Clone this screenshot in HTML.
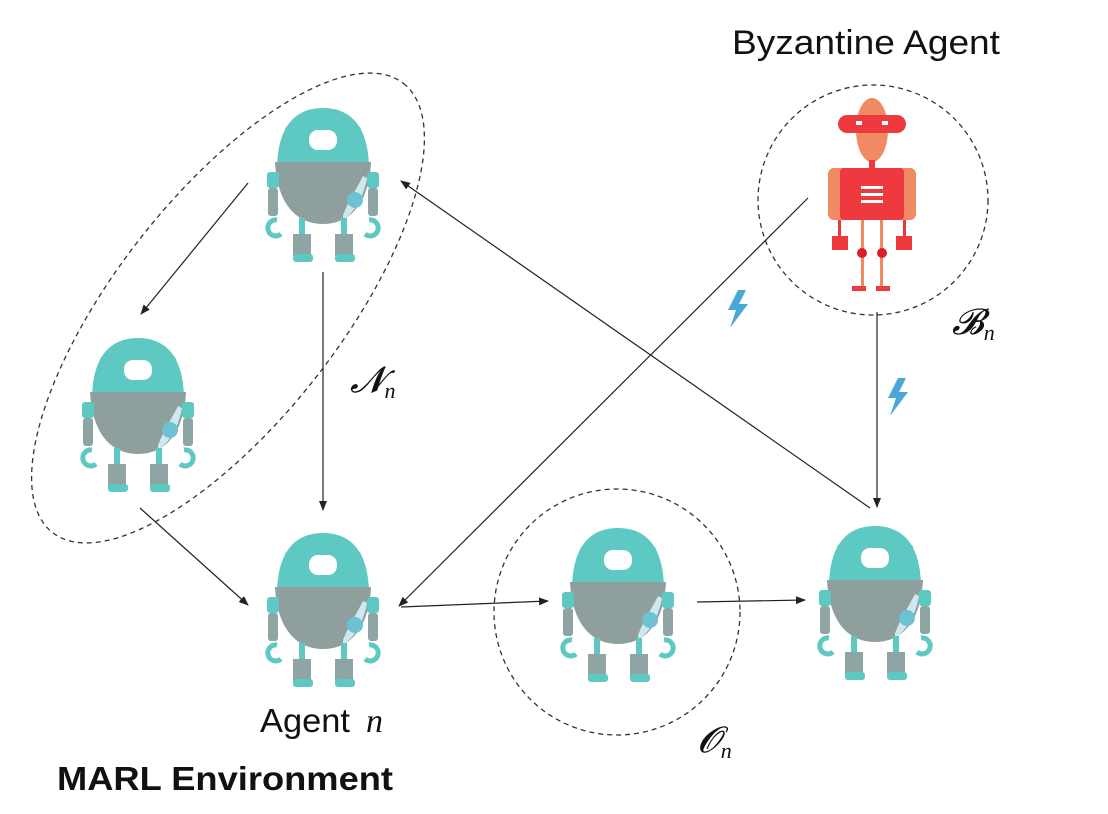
<!DOCTYPE html>
<html><head><meta charset="utf-8"><style>
html,body{margin:0;padding:0;background:#fff;}
svg{display:block;}
text{font-family:"Liberation Sans","DejaVu Sans",sans-serif;}
.m{font-family:"Liberation Serif",serif;font-style:italic;}
</style></head><body>
<svg width="1108" height="814" viewBox="0 0 1108 814" xmlns="http://www.w3.org/2000/svg">
<defs>
<marker id="a" markerWidth="10" markerHeight="8" refX="9" refY="4" orient="auto" markerUnits="userSpaceOnUse">
<path d="M0,0 L10,4 L0,8 z" fill="#222"/></marker>
<g id="r">
 <rect x="26" y="26" width="12" height="24" rx="4" fill="#8fa5a3"/>
 <rect x="90" y="26" width="12" height="24" rx="4" fill="#8fa5a3"/>
 <path d="M18,70 C18,28 35,8 64,8 C93,8 110,28 110,70 Z" fill="#5ec9c3"/>
 <rect x="50" y="30" width="28" height="20" rx="9" fill="#fff"/>
 <path d="M16,62 L112,62 C110,102 92,124 64,124 C36,124 18,102 16,62 Z" fill="#8e9f9d"/>
 <path d="M84,115 C90,100 98,88 104,76 L108,78 C104,100 95,112 84,120 Z" fill="#cde9ef"/>
 <circle cx="96" cy="100" r="8" fill="#6cc2d0"/>
 <rect x="8" y="72" width="12" height="16" rx="3" fill="#5ec9c3"/>
 <rect x="108" y="72" width="12" height="16" rx="3" fill="#5ec9c3"/>
 <rect x="9" y="88" width="10" height="28" rx="3" fill="#8fa5a3"/>
 <rect x="109" y="88" width="10" height="28" rx="3" fill="#8fa5a3"/>
 <path d="M18,120 A8,8 0 1,0 22,134" stroke="#5ec9c3" stroke-width="5" fill="none"/>
 <path d="M110,120 A8,8 0 1,1 106,134" stroke="#5ec9c3" stroke-width="5" fill="none"/>
 <rect x="40" y="118" width="6" height="20" fill="#5ec9c3"/>
 <rect x="82" y="118" width="6" height="20" fill="#5ec9c3"/>
 <rect x="34" y="134" width="18" height="22" fill="#8fa5a3"/>
 <rect x="76" y="134" width="18" height="22" fill="#8fa5a3"/>
 <rect x="34" y="154" width="20" height="8" rx="3" fill="#5ec9c3"/>
 <rect x="76" y="154" width="20" height="8" rx="3" fill="#5ec9c3"/>
</g>
<g id="bolt"><path d="M12,0 L2,20 L10,20 L4,38 L22,14 L13,14 L20,0 Z" fill="#4aa8d8"/></g>
</defs>

<ellipse cx="228" cy="308" rx="285" ry="112" transform="rotate(-52 228 308)" fill="none" stroke="#333" stroke-width="1.3" stroke-dasharray="5,4"/>
<circle cx="873" cy="200" r="115" fill="none" stroke="#333" stroke-width="1.3" stroke-dasharray="5,4"/>
<circle cx="617" cy="612" r="123" fill="none" stroke="#333" stroke-width="1.3" stroke-dasharray="5,4"/>

<use href="#r" x="259" y="100"/>
<use href="#r" x="74" y="330"/>
<use href="#r" x="259" y="525"/>
<use href="#r" x="554" y="520"/>
<use href="#r" x="811" y="518"/>

<g>
 <ellipse cx="872" cy="130" rx="16" ry="32" fill="#f08a63"/>
 <rect x="838" y="115" width="68" height="18" rx="9" fill="#ee3a3e"/>
 <rect x="856" y="121" width="6" height="4" fill="#fff"/><rect x="882" y="121" width="6" height="4" fill="#fff"/>
 <rect x="869" y="160" width="6" height="10" fill="#ee3a3e"/>
 <rect x="828" y="168" width="20" height="52" rx="6" fill="#f08a63"/>
 <rect x="896" y="168" width="20" height="52" rx="6" fill="#f08a63"/>
 <rect x="840" y="168" width="64" height="52" rx="4" fill="#ee3a3e"/>
 <rect x="861" y="186" width="22" height="3" fill="#fff"/><rect x="861" y="193" width="22" height="3" fill="#fff"/><rect x="861" y="200" width="22" height="3" fill="#fff"/>
 <rect x="838" y="220" width="3" height="18" fill="#ee3a3e"/><rect x="903" y="220" width="3" height="18" fill="#ee3a3e"/>
 <rect x="832" y="236" width="16" height="14" fill="#ee3a3e"/><rect x="896" y="236" width="16" height="14" fill="#ee3a3e"/>
 <rect x="861" y="220" width="3" height="68" fill="#f08a63"/><rect x="880" y="220" width="3" height="68" fill="#f08a63"/>
 <circle cx="862" cy="253" r="5" fill="#d91f2a"/><circle cx="882" cy="253" r="5" fill="#d91f2a"/>
 <rect x="852" y="286" width="14" height="5" fill="#ee3a3e"/><rect x="876" y="286" width="14" height="5" fill="#ee3a3e"/>
</g>

<g stroke="#222" stroke-width="1.2" marker-end="url(#a)">
 <line x1="248" y1="183" x2="141" y2="314"/>
 <line x1="323" y1="272" x2="323" y2="510"/>
 <line x1="140" y1="508" x2="248" y2="605"/>
 <line x1="808" y1="198" x2="399" y2="606"/>
 <line x1="877" y1="312" x2="877" y2="507"/>
 <line x1="870" y1="508" x2="401" y2="181"/>
 <line x1="401" y1="607" x2="548" y2="601"/>
 <line x1="697" y1="602" x2="805" y2="600"/>
</g>

<use href="#bolt" x="726" y="290"/>
<use href="#bolt" x="886" y="378"/>

<text x="732" y="54" font-size="34" fill="#111" textLength="268" lengthAdjust="spacingAndGlyphs">Byzantine Agent</text>
<text x="952" y="334" font-size="36" class="m" fill="#111">𝓑<tspan font-size="22" dy="6">n</tspan></text>
<text x="350" y="392" font-size="36" class="m" fill="#111">𝓝<tspan font-size="22" dy="6">n</tspan></text>
<text x="260" y="732" font-size="33" fill="#111" textLength="90" lengthAdjust="spacingAndGlyphs">Agent</text>
<text x="366" y="732" font-size="34" class="m" fill="#111">n</text>
<text x="698" y="752" font-size="36" class="m" fill="#111">𝓞<tspan font-size="22" dy="6">n</tspan></text>
<text x="57" y="790" font-size="33" font-weight="bold" fill="#111" textLength="336" lengthAdjust="spacingAndGlyphs">MARL Environment</text>
</svg>
</body></html>
